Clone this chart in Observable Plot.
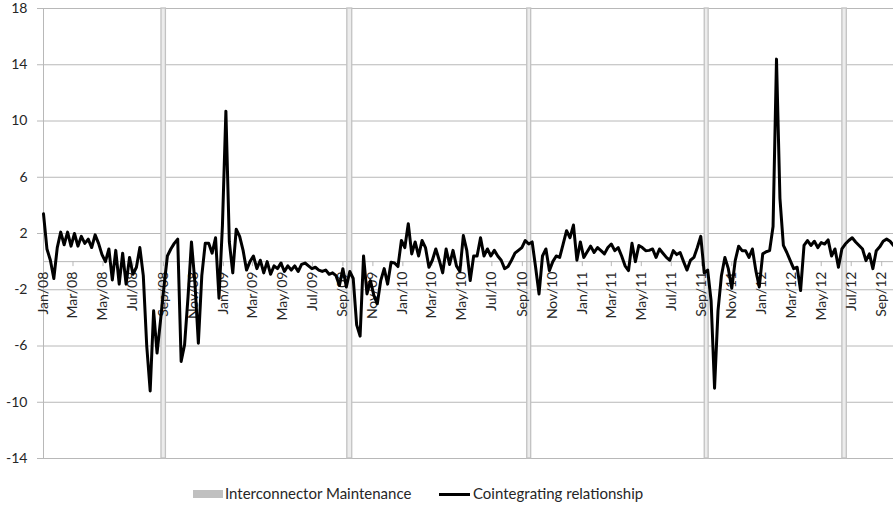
<!DOCTYPE html>
<html><head><meta charset="utf-8">
<script src="https://cdn.jsdelivr.net/npm/d3@7"></script>
<script src="https://cdn.jsdelivr.net/npm/@observablehq/plot@0.6"></script>
<style>
body{margin:0;background:#fff;font-family:Lato,"Open Sans",sans-serif;}
#wrap{position:relative;width:893px;height:508px;overflow:hidden;}
#legend{position:absolute;left:0;top:475px;width:893px;height:33px;font-size:15px;color:#262626;}
#legend .sw{position:absolute;}
#legend .lt{position:absolute;top:9px;line-height:18px;white-space:nowrap;}
</style></head>
<body><div id="wrap"><div id="chart"></div><div id="legend"></div></div>
<script>
// ---- data (weekly readings, starting 1 Jan 2008) ----
const seriesStart = "2008-01-01";
const weeks2008 = [3.4,0.9,0.1,-1.2,1.0,2.1,1.2,2.1,1.1,2.0,1.1,1.8,1.3,1.6,1.0,1.9,1.3,0.5,0.0,0.9,-1.3,0.8,-1.6,0.6,-1.6,0.3,-0.9,-0.4,1.0,-1.0,-6.0,-9.2,-3.5,-6.5,-4.2,-1.8,0.4,0.9,1.3,1.6,-7.1,-5.9,-2.5,1.4,-1.5,-5.8,-1.0,1.3,1.3,0.6,1.7,-2.6,2.6];
const weeks2009 = [10.7,1.4,-0.8,2.3,1.8,0.8,-0.6,0.0,0.4,-0.5,0.1,-0.8,0.0,-0.9,-0.3,-0.5,-0.1,-0.7,-0.3,-0.6,-0.3,-0.7,-0.2,-0.1,-0.3,-0.5,-0.4,-0.6,-0.7,-0.6,-0.9,-0.8,-1.0,-1.7,-0.5,-1.8,-0.7,-1.2,-4.5,-5.3,0.4,-2.3,-1.35,-2.4,-3.0,-1.35,-0.5,-1.6,-0.05,-0.1,-0.35,1.5];
const weeks2010 = [1.0,2.7,0.55,1.4,0.4,1.5,1.0,-0.4,0.1,0.9,0.1,-0.8,0.9,-0.2,0.8,-0.3,-0.7,1.85,0.8,-1.35,0.4,0.4,1.7,0.4,0.9,0.4,0.8,0.4,0.1,-0.5,-0.35,0.1,0.6,0.8,1.0,1.5,1.25,1.4,-0.4,-2.3,0.4,0.9,-0.64,0.0,0.4,0.3,1.25,2.2,1.7,2.6,0.1,1.4];
const weeks2011 = [0.3,0.7,1.1,0.65,1.0,0.78,0.55,1.0,1.25,0.78,1.0,0.4,-0.3,-0.64,1.3,0.0,1.15,1.0,0.78,0.8,0.9,0.3,0.9,0.6,0.3,0.1,0.78,0.5,0.65,0.0,-0.6,0.1,0.3,1.0,1.8,-0.8,-0.6,-2.8,-9.0,-3.5,-1.0,0.3,-0.5,-1.9,0.07,1.1,0.78,0.78,0.3,0.9,-0.64,-1.8];
const weeks2012 = [0.55,0.7,0.78,2.5,14.4,4.5,1.15,0.65,0.07,-0.5,-0.4,-2.06,1.15,1.5,1.15,1.45,1.0,1.35,1.25,1.55,0.4,0.9,-0.4,0.9,1.25,1.5,1.7,1.4,1.15,0.9,0.07,0.55,-0.5,0.78,1.05,1.45,1.6,1.45,1.15];
const maintStart = ["2008-08-28","2009-09-10","2010-09-11","2011-09-07","2012-06-13"];
const maintEnd   = ["2008-09-06","2009-09-20","2010-09-19","2011-09-15","2012-06-22"];
const yTicks = [-14,-10,-6,-2,2,6,10,14,18];
const xDomain = ["2008-01-01","2012-09-25"];
const bandName = "Interconnector Maintenance";
const lineName = "Cointegrating relationship";

// ---- build ----
const values = [...weeks2008, ...weeks2009, ...weeks2010, ...weeks2011, ...weeks2012];
const t0 = new Date(seriesStart);
const data = values.map((v, i) => ({date: d3.utcDay.offset(t0, 7 * i), value: v}));
const bands = maintStart.map((s, i) => ({start: new Date(s), end: new Date(maintEnd[i])}));
const dom = xDomain.map(d => new Date(d));
const xTicks = d3.utcMonth.every(2).range(dom[0], dom[1]);
const fmt = d3.utcFormat("%b/%y");
const grey = "#b8b8b8";
const ink = "#262626";

const chart = Plot.plot({
  width: 893, height: 475,
  marginLeft: 43, marginRight: 0, marginTop: 8, marginBottom: 17,
  style: {fontFamily: "Lato, 'Open Sans', sans-serif", fontSize: "14px", color: ink, background: "#fff", overflow: "visible"},
  x: {type: "utc", domain: dom, axis: null},
  y: {domain: [yTicks[0], yTicks[yTicks.length - 1]], axis: null},
  marks: [
    Plot.gridY(yTicks, {stroke: grey, strokeOpacity: 1}),
    Plot.axisY(yTicks, {label: null, tickSize: 6, tickPadding: 10, stroke: grey, fill: ink, tickFormat: d => String(d), fontSize: 14}),
    Plot.rect(bands, {x1: "start", x2: "end", fill: "#ececec", stroke: "#c2c2c2", strokeWidth: 1.3}),
    Plot.ruleX([dom[0]], {stroke: grey}),
    Plot.ruleY([0], {stroke: grey}),
    Plot.ruleX(xTicks, {x: d => d, y1: 0, y2: 0, insetBottom: -5, stroke: grey}),
    Plot.text(xTicks, {x: d => d, y: 0, text: d => fmt(d), rotate: -90, textAnchor: "end", dy: 10, fontSize: 14, fill: ink}),
    Plot.line(data, {x: "date", y: "value", stroke: "#000", strokeWidth: 3, strokeLinejoin: "round"})
  ]
});
document.getElementById("chart").appendChild(chart);

// ---- legend ----
const lg = document.getElementById("legend");
lg.innerHTML =
  `<div class="sw" style="left:193px;top:15px;width:30px;height:8px;background:#c0c0c0"></div>` +
  `<div class="lt" style="left:225px">${bandName}</div>` +
  `<div class="sw" style="left:439px;top:18px;width:31px;height:3px;background:#000"></div>` +
  `<div class="lt" style="left:473px">${lineName}</div>`;
</script>
</body></html>
